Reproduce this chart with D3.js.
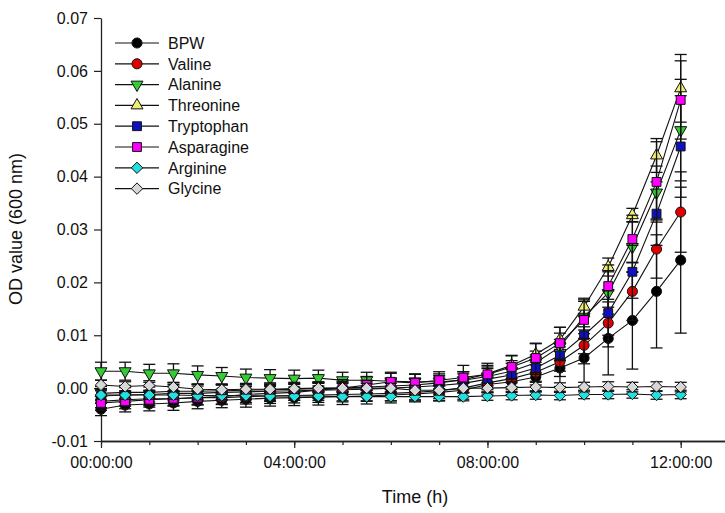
<!DOCTYPE html>
<html>
<head>
<meta charset="utf-8">
<script src="https://cdn.jsdelivr.net/npm/d3@7"></script>
<style>
  body { margin: 0; background: #fff; }
  text { font-family: "Liberation Sans", Arial, sans-serif; }
</style>
</head>
<body>
<script>
// time points, every 30 min from 0 to 12 h
var hours = d3.range(0, 12.01, 0.5)

var seriesNames = ["BPW", "Valine", "Alanine", "Threonine", "Tryptophan", "Asparagine", "Arginine", "Glycine"]
var seriesColors = ["#000000", "#e00000", "#33cc33", "#eeee70", "#1010c0", "#ff00ff", "#22e0e0", "#d8d8d8"]
var seriesShapes = ["circle", "circle", "triDown", "triUp", "square", "square", "diamond", "diamond"]

var bpw = [-0.0040, -0.0032, -0.0030, -0.0028, -0.0025, -0.0023, -0.0021, -0.0019, -0.0018, -0.0017, -0.0016, -0.0015, -0.0013,
           -0.0011, -0.0008, -0.0004, 0.0007, 0.0012, 0.0021, 0.0038, 0.0057, 0.0094, 0.0128, 0.0183, 0.0242]
var valine = [-0.0025, -0.0022, -0.0020, -0.0020, -0.0018, -0.0018, -0.0016, -0.0015, -0.0014, -0.0013, -0.0012, -0.0011, -0.0010,
              -0.0008, -0.0005, 0.0000, 0.0010, 0.0018, 0.0030, 0.0050, 0.0081, 0.0123, 0.0183, 0.0263, 0.0333]
var alanine = [0.0032, 0.0032, 0.0028, 0.0028, 0.0025, 0.0023, 0.0020, 0.0019, 0.0018, 0.0019, 0.0015, 0.0015, 0.0013,
               0.0012, 0.0012, 0.0015, 0.0022, 0.0032, 0.0048, 0.0078, 0.0135, 0.0180, 0.0267, 0.0370, 0.0488]
var threonine = [-0.0010, -0.0008, -0.0008, -0.0006, -0.0006, -0.0005, -0.0004, -0.0003, -0.0002, -0.0001, 0.0000, 0.0002, 0.0004,
                 0.0006, 0.0010, 0.0016, 0.0027, 0.0043, 0.0064, 0.0092, 0.0154, 0.0229, 0.0327, 0.0440, 0.0567]
var tryptophan = [-0.0015, -0.0013, -0.0012, -0.0010, -0.0010, -0.0008, -0.0007, -0.0006, -0.0005, -0.0004, -0.0003, -0.0002, 0.0000,
                  0.0002, 0.0005, 0.0009, 0.0017, 0.0025, 0.0038, 0.0062, 0.0100, 0.0142, 0.0220, 0.0330, 0.0457]
var asparagine = [-0.0028, -0.0025, -0.0022, -0.0020, -0.0018, -0.0016, -0.0012, -0.0010, -0.0008, -0.0004, 0.0000, 0.0006, 0.0012,
                  0.0010, 0.0015, 0.0020, 0.0026, 0.0040, 0.0057, 0.0085, 0.0129, 0.0193, 0.0282, 0.0390, 0.0545]
var arginine = [-0.0013, -0.0013, -0.0013, -0.0013, -0.0014, -0.0014, -0.0014, -0.0015, -0.0015, -0.0015, -0.0016, -0.0016, -0.0016,
                -0.0016, -0.0016, -0.0016, -0.0015, -0.0014, -0.0013, -0.0014, -0.0012, -0.0012, -0.0011, -0.0013, -0.0012]
var glycine = [0.0006, 0.0003, 0.0005, 0.0002, -0.0002, -0.0003, -0.0002, -0.0002, -0.0001, 0.0000, 0.0000, 0.0000, 0.0000,
               -0.0004, -0.0004, 0.0000, 0.0000, 0.0001, 0.0002, 0.0001, 0.0002, 0.0003, 0.0002, 0.0003, 0.0002]

// error bars (+/-)
var bpwErr = [0.0012, 0.0013, 0.0013, 0.0014, 0.0014, 0.0014, 0.0015, 0.0015, 0.0015, 0.0015, 0.0015, 0.0015, 0.0015,
              0.0015, 0.0016, 0.0017, 0.0020, 0.0024, 0.0028, 0.0035, 0.0053, 0.0069, 0.0092, 0.0107, 0.0138]
var valineErr = [0.0012, 0.0012, 0.0013, 0.0013, 0.0013, 0.0013, 0.0014, 0.0014, 0.0014, 0.0014, 0.0014, 0.0014, 0.0014,
                 0.0014, 0.0015, 0.0016, 0.0018, 0.0020, 0.0024, 0.0028, 0.0035, 0.0045, 0.0055, 0.0055, 0.0076]
var alanineErr = [0.0017, 0.0017, 0.0017, 0.0018, 0.0017, 0.0016, 0.0016, 0.0016, 0.0016, 0.0015, 0.0015, 0.0015, 0.0015,
                  0.0015, 0.0015, 0.0016, 0.0018, 0.0020, 0.0022, 0.0026, 0.0032, 0.0040, 0.0048, 0.0050, 0.0096]
var threonineErr = [0.0013, 0.0013, 0.0013, 0.0013, 0.0013, 0.0013, 0.0013, 0.0013, 0.0013, 0.0013, 0.0013, 0.0013, 0.0013,
                    0.0013, 0.0014, 0.0015, 0.0016, 0.0018, 0.0020, 0.0023, 0.0016, 0.0017, 0.0013, 0.0032, 0.0064]
var tryptophanErr = [0.0014, 0.0014, 0.0014, 0.0014, 0.0014, 0.0014, 0.0014, 0.0014, 0.0014, 0.0014, 0.0014, 0.0014, 0.0015,
                     0.0015, 0.0016, 0.0018, 0.0020, 0.0022, 0.0025, 0.0030, 0.0035, 0.0042, 0.0050, 0.0060, 0.0096]
var asparagineErr = [0.0014, 0.0014, 0.0014, 0.0014, 0.0014, 0.0014, 0.0015, 0.0015, 0.0015, 0.0015, 0.0016, 0.0016, 0.0018,
                     0.0016, 0.0016, 0.0023, 0.0021, 0.0022, 0.0028, 0.0030, 0.0035, 0.0040, 0.0045, 0.0076, 0.0074]
var arginineErr = [0.0008, 0.0008, 0.0008, 0.0008, 0.0008, 0.0008, 0.0008, 0.0008, 0.0008, 0.0008, 0.0008, 0.0008, 0.0008,
                   0.0008, 0.0008, 0.0008, 0.0008, 0.0008, 0.0008, 0.0008, 0.0008, 0.0008, 0.0008, 0.0008, 0.0008]
var glycineErr = [0.0009, 0.0009, 0.0009, 0.0009, 0.0009, 0.0009, 0.0009, 0.0009, 0.0009, 0.0009, 0.0009, 0.0009, 0.0009,
                  0.0009, 0.0009, 0.0009, 0.0009, 0.0009, 0.0009, 0.0009, 0.0009, 0.0009, 0.0009, 0.0009, 0.0009]

var yTicks = [-0.01, 0, 0.01, 0.02, 0.03, 0.04, 0.05, 0.06, 0.07]
var xMajorTicks = [0, 4, 8, 12]
var xTickLabels = ["00:00:00", "04:00:00", "08:00:00", "12:00:00"]
var xMinorTicks = d3.range(0, 13, 1)

var values = [bpw, valine, alanine, threonine, tryptophan, asparagine, arginine, glycine]
var errors = [bpwErr, valineErr, alanineErr, threonineErr, tryptophanErr, asparagineErr, arginineErr, glycineErr]

var series = seriesNames.map(function(name, i) {
  return {
    name: name, color: seriesColors[i], shape: seriesShapes[i],
    points: hours.map(function(h, j) { return {t: h, v: values[i][j], e: errors[i][j]} })
  }
})

var svg = d3.select("body").append("svg")
  .attr("width", 725)
  .attr("height", 513)

var x = d3.scaleLinear().domain([0, 13]).range([101, 729])
var y = d3.scaleLinear().domain([-0.01, 0.07]).range([441, 18])

// custom symbol shapes
var diamond = {draw: function(ctx, size) {
  var r = Math.sqrt(size) * 0.68
  ctx.moveTo(0, -r); ctx.lineTo(r, 0); ctx.lineTo(0, r); ctx.lineTo(-r, 0); ctx.closePath()
}}
function symbolPath(shape) {
  if (shape == "circle") return d3.symbol(d3.symbolCircle, 80)()
  if (shape == "square") return d3.symbol(d3.symbolSquare, 78)()
  if (shape == "diamond") return d3.symbol(diamond, 70)()
  return d3.symbol(d3.symbolTriangle, 62)()
}
function symbolRotate(shape) { return shape == "triDown" ? " rotate(180)" : "" }

// axes
var yAxis = d3.axisLeft(y)
  .tickValues(yTicks)
  .tickSize(7)
  .tickSizeOuter(0)
  .tickPadding(6)
  .tickFormat(function(d) { return d.toFixed(2).replace("\u2212", "-") })

var gy = svg.append("g").attr("transform", "translate(101,0)").call(yAxis)

var gxMinor = svg.append("g").attr("transform", "translate(0,441)")
  .call(d3.axisBottom(x).tickValues(xMinorTicks).tickSize(4).tickSizeOuter(0).tickFormat(""))
var gx = svg.append("g").attr("transform", "translate(0,441)")
  .call(d3.axisBottom(x).tickValues(xMajorTicks).tickSize(7).tickSizeOuter(0).tickPadding(9)
    .tickFormat(function(d, i) { return xTickLabels[i] }))

svg.selectAll(".domain").attr("stroke", "#222").attr("stroke-width", 1.3)
svg.selectAll(".tick line").attr("stroke", "#222").attr("stroke-width", 1.2)
svg.selectAll(".tick text").attr("font-size", "16px").attr("fill", "#111")
  .attr("font-family", "Liberation Sans, Arial, sans-serif")

svg.append("text")
  .attr("transform", "translate(22,229) rotate(-90)")
  .attr("text-anchor", "middle")
  .attr("font-size", "18px")
  .attr("fill", "#111")
  .text("OD value (600 nm)")

svg.append("text")
  .attr("x", 415)
  .attr("y", 503)
  .attr("text-anchor", "middle")
  .attr("font-size", "18px")
  .attr("fill", "#111")
  .text("Time (h)")

// series: line, error bars, symbols
var line = d3.line()
  .x(function(d) { return x(d.t) })
  .y(function(d) { return y(d.v) })

var groups = svg.selectAll("g.series")
  .data(series).enter()
  .append("g")
  .attr("class", "series")

groups.append("path")
  .attr("d", function(s) { return line(s.points) })
  .attr("fill", "none")
  .attr("stroke", "#111")
  .attr("stroke-width", 1.1)

groups.each(function(s) {
  var g = d3.select(this)
  var eb = g.selectAll("g.err").data(s.points).enter().append("g")
    .attr("class", "err")
    .attr("stroke", "#111")
    .attr("stroke-width", 1.3)
  eb.append("line")
    .attr("x1", function(d) { return x(d.t) }).attr("x2", function(d) { return x(d.t) })
    .attr("y1", function(d) { return y(d.v - d.e) }).attr("y2", function(d) { return y(d.v + d.e) })
  eb.append("line")
    .attr("x1", function(d) { return x(d.t) - 6 }).attr("x2", function(d) { return x(d.t) + 6 })
    .attr("y1", function(d) { return y(d.v + d.e) }).attr("y2", function(d) { return y(d.v + d.e) })
  eb.append("line")
    .attr("x1", function(d) { return x(d.t) - 6 }).attr("x2", function(d) { return x(d.t) + 6 })
    .attr("y1", function(d) { return y(d.v - d.e) }).attr("y2", function(d) { return y(d.v - d.e) })

  g.selectAll("path.sym").data(s.points).enter().append("path")
    .attr("class", "sym")
    .attr("d", symbolPath(s.shape))
    .attr("transform", function(d) { return "translate(" + x(d.t) + "," + y(d.v) + ")" + symbolRotate(s.shape) })
    .attr("fill", s.color)
    .attr("stroke", "#111")
    .attr("stroke-width", 1)
})

// legend
var legend = svg.selectAll("g.legend")
  .data(series).enter()
  .append("g")
  .attr("class", "legend")
  .attr("transform", function(d, i) { return "translate(0," + (43 + i * 20.8) + ")" })

legend.append("line")
  .attr("x1", 115).attr("x2", 159)
  .attr("stroke", "#111").attr("stroke-width", 1.2)
legend.append("path")
  .attr("d", function(d) { return symbolPath(d.shape) })
  .attr("transform", function(d) { return "translate(137,0)" + symbolRotate(d.shape) })
  .attr("fill", function(d) { return d.color })
  .attr("stroke", "#111")
legend.append("text")
  .attr("x", 168)
  .attr("dy", "0.36em")
  .attr("font-size", "16px")
  .attr("fill", "#111")
  .text(function(d) { return d.name })
</script>
</body>
</html>
